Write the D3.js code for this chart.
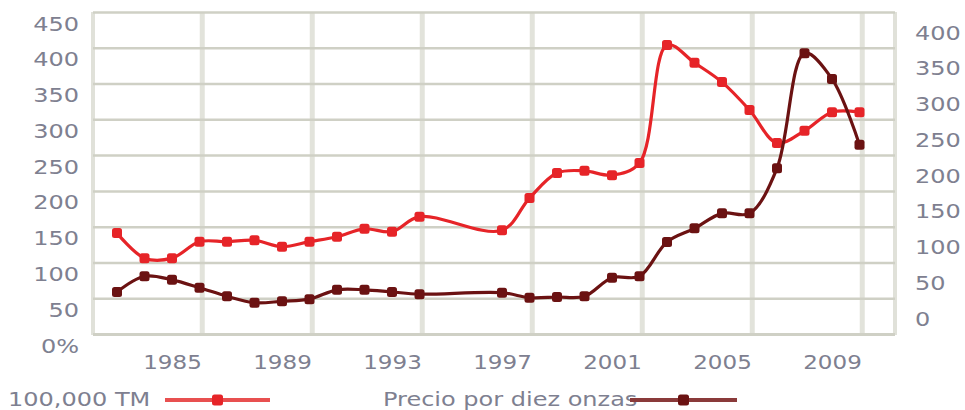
<!DOCTYPE html>
<html>
<head>
<meta charset="utf-8">
<script src="https://cdn.jsdelivr.net/npm/d3@7"></script>
<style>
	html, body { margin: 0; padding: 0; background: #fff; }
	svg { display: block; }
	text { font-family: 'DejaVu Sans', sans-serif; font-size: 20px; fill: #7e8090; }
</style>
</head>
<body>
<div id="app"></div>
<script>
// data (1995 and 1996 are missing in the source)
const years = [1983, 1984, 1985, 1986, 1987, 1988, 1989, 1990, 1991, 1992, 1993, 1994,
	1997, 1998, 1999, 2000, 2001, 2002, 2003, 2004, 2005, 2006, 2007, 2008, 2009, 2010];
// 100,000 TM (left axis)
const tonnes = [141, 106, 106, 129, 129, 131, 122, 129, 136, 147, 143, 164,
	145, 190, 225, 228, 222, 239, 404, 379, 352, 313, 267, 284, 310, 310];
// Precio por diez onzas (right axis)
const price = [21, 43, 38, 27, 15, 6, 8, 11, 24, 24, 21, 18,
	20, 13, 14, 15, 41, 43, 91, 110, 131, 131, 194, 355, 319, 227];

const xTickYears = [1985, 1989, 1993, 1997, 2001, 2005, 2009];
const gridYears = [1986.1, 1990.1, 1994.1, 1998.1, 2002.1, 2006.1, 2010.1];
const leftTicks = [0, 50, 100, 150, 200, 250, 300, 350, 400, 450];
const rightTicks = [0, 50, 100, 150, 200, 250, 300, 350, 400];

const seriesNames = ['100,000 TM', 'Precio por diez onzas'];
const colours = ['#e62428', '#6b1212'];

const width = 965;
const height = 410;
const plot = { left: 93, right: 895, top: 12, bottom: 334 };
const labelShift = 18; // labels sit a bit below their gridline in the original

const x = d3.scaleLinear()
	.domain([1985, 2009])
	.range([172, 832]);

const yLeft = d3.scaleLinear()
	.domain([0, 450])
	.range([plot.bottom, plot.top]);

const yRight = d3.scaleLinear()
	.domain([0, 400])
	.range([307, 21]);

const svg = d3.select('#app')
	.append('svg')
	.attr('width', width)
	.attr('height', height)
	.attr('viewBox', [0, 0, width, height]);

// stretch text a little, the source image is wider than it is tall
const stretch = (sel, k) => {
	sel.each(function () {
		const w = this.getComputedTextLength();
		d3.select(this)
			.attr('textLength', w * k)
			.attr('lengthAdjust', 'spacingAndGlyphs');
	});
};

// vertical gridlines
svg.append('g')
	.attr('class', 'v-grid')
	.selectAll('line')
	.data(gridYears)
	.join('line')
	.attr('x1', d => x(d))
	.attr('x2', d => x(d))
	.attr('y1', plot.top)
	.attr('y2', plot.bottom)
	.attr('stroke', '#e2e3db')
	.attr('stroke-width', 5);

// plot border left / right
[plot.left, plot.right].forEach(px => {
	svg.append('line')
		.attr('x1', px).attr('x2', px)
		.attr('y1', plot.top).attr('y2', plot.bottom + 1)
		.attr('stroke', '#e0e1d9')
		.attr('stroke-width', 4);
});

// horizontal gridlines + left labels
const yAxis = g => {
	g.attr('transform', `translate(${plot.left},0)`)
		.call(d3.axisLeft(yLeft)
			.tickValues(leftTicks)
			.tickSize(-(plot.right - plot.left))
			.tickPadding(14)
			.tickFormat(d => d === 0 ? '0%' : d)
		)
		.call(g => g.select('.domain').remove())
		.call(g => g.selectAll('.tick line')
			.attr('stroke', '#cfd0c5')
			.attr('stroke-width', d => d === 0 ? 3 : 2.5))
		.call(g => g.selectAll('.tick text')
			.attr('x', -14)
			.attr('dy', null)
			.attr('y', labelShift)
			.attr('font-size', 20)
			.attr('fill', '#7e8090')
			.call(stretch, 1.2));
};

const yAxisRight = g => {
	g.attr('transform', `translate(${plot.right},0)`)
		.call(d3.axisRight(yRight)
			.tickValues(rightTicks)
			.tickSize(0)
			.tickPadding(20)
		)
		.call(g => g.select('.domain').remove())
		.call(g => g.selectAll('.tick text')
			.attr('x', 20)
			.attr('dy', null)
			.attr('y', labelShift)
			.attr('font-size', 20)
			.attr('fill', '#7e8090')
			.call(stretch, 1.2));
};

const xAxis = g => {
	g.attr('transform', `translate(0,${plot.bottom})`)
		.call(d3.axisBottom(x)
			.tickValues(xTickYears)
			.tickSize(0)
			.tickFormat(d3.format('d'))
		)
		.call(g => g.select('.domain').remove())
		.call(g => g.selectAll('.tick text')
			.attr('dy', null)
			.attr('y', 35)
			.attr('font-size', 20)
			.attr('fill', '#7e8090')
			.call(stretch, 1.15));
};

svg.append('g').call(yAxis);
svg.append('g').call(yAxisRight);
svg.append('g').call(xAxis);

// the two series
const drawSeries = (values, scale, colour) => {
	const points = years.map((yr, i) => ({ year: yr, value: values[i] }));

	svg.append('path')
		.datum(points)
		.attr('fill', 'none')
		.attr('stroke', colour)
		.attr('stroke-width', 3.2)
		.attr('stroke-linejoin', 'round')
		.attr('d', d3.line()
			.x(d => x(d.year))
			.y(d => scale(d.value))
			.curve(d3.curveCatmullRom.alpha(0.5))
		);

	svg.append('g')
		.selectAll('rect')
		.data(points)
		.join('rect')
		.attr('x', d => x(d.year) - 5)
		.attr('y', d => scale(d.value) - 5)
		.attr('width', 10)
		.attr('height', 10)
		.attr('rx', 2.5)
		.attr('fill', colour);
};

drawSeries(tonnes, yLeft, colours[0]);
drawSeries(price, yRight, colours[1]);

// legend along the bottom
const legend = [
	{ name: seriesNames[0], colour: colours[0], line: '#e85050', tx: 8, lx1: 165, lx2: 270 },
	{ name: seriesNames[1], colour: colours[1], line: '#8a3a3a', tx: 383, lx1: 630, lx2: 737 }
];

legend.forEach(l => {
	const g = svg.append('g').attr('class', 'legend');
	g.append('text')
		.attr('x', l.tx)
		.attr('y', 406)
		.attr('font-size', 20)
		.attr('fill', '#8a8c9a')
		.text(l.name)
		.call(stretch, 1.2);
	g.append('line')
		.attr('x1', l.lx1).attr('x2', l.lx2)
		.attr('y1', 400).attr('y2', 400)
		.attr('stroke', l.line)
		.attr('stroke-width', 4);
	g.append('rect')
		.attr('x', (l.lx1 + l.lx2) / 2 - 5.5)
		.attr('y', 394.5)
		.attr('width', 11).attr('height', 11)
		.attr('rx', 2.5)
		.attr('fill', l.colour);
});
</script>
</body>
</html>
